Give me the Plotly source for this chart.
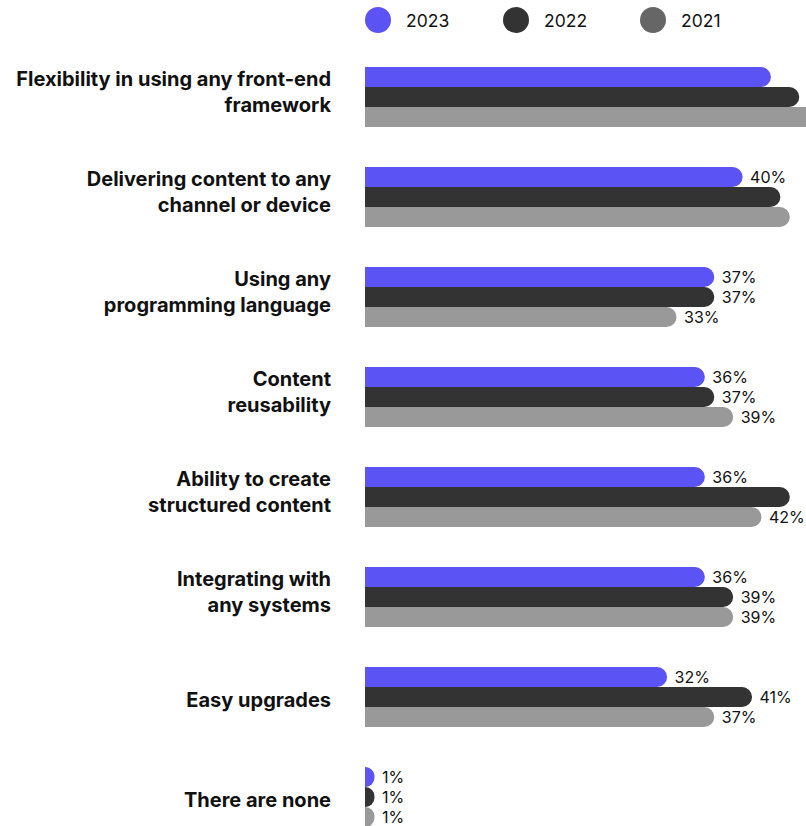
import plotly.graph_objects as go

categories = [
    "Flexibility in using any front-end<br>framework",
    "Delivering content to any<br>channel or device",
    "Using any<br>programming language",
    "Content<br>reusability",
    "Ability to create<br>structured content",
    "Integrating with<br>any systems",
    "Easy upgrades",
    "There are none",
]
years = ["2023", "2022", "2021"]
values_2023 = [43, 40, 37, 36, 36, 36, 32, 1]
values_2022 = [46, 44, 37, 37, 45, 39, 41, 1]
values_2021 = [48, 45, 33, 39, 42, 39, 37, 1]
bar_colors = ["#5B53F3", "#333333", "#999999"]
legend_colors = ["#5B53F3", "#333333", "#666666"]

W, H = 806, 826
ML, MT = 365, 47
PW, PH = W - ML, H - MT
PX_PER_PCT = 9.44
X_MAX = PW / PX_PER_PCT

FONT = "Inter"

fig = go.Figure()
for name, vals, col in zip(years, [values_2023, values_2022, values_2021], bar_colors):
    fig.add_trace(go.Bar(
        name=name,
        y=categories,
        x=vals,
        orientation="h",
        marker=dict(color=col, cornerradius=10, line=dict(width=0)),
        text=[(" %d%%" % v) if v <= 42 else "" for v in vals],
        textposition="outside",
        constraintext="none",
        textfont=dict(family=FONT, size=16, color="#111111"),
        cliponaxis=True,
        showlegend=False,
        hoverinfo="skip",
    ))

# empty helper trace so the second (label-only) y axis is drawn
fig.add_trace(go.Scatter(x=[], y=[], yaxis="y2", showlegend=False, hoverinfo="skip"))

multi_line = [c for c in categories if "<br>" in c]
single_line = [c for c in categories if "<br>" not in c]

# legend drawn as circles + text
shapes = []
annotations = []
leg_px = [378, 516, 653]
for i, (name, col) in enumerate(zip(years, legend_colors)):
    cx = (leg_px[i] - ML) / PW
    cy = (H - 20) / PH
    shapes.append(dict(type="circle", xref="paper", yref="paper",
                       xsizemode="pixel", ysizemode="pixel",
                       xanchor=cx, yanchor=cy, x0=-13, x1=13, y0=-13, y1=13,
                       fillcolor=col, line=dict(width=0)))
    annotations.append(dict(xref="paper", yref="paper", x=(leg_px[i] + 26 - ML) / PW, y=cy,
                            text=name, showarrow=False, xanchor="left", yanchor="middle",
                            font=dict(family=FONT, size=17.5, color="#111111")))

tickfont = dict(family=FONT, size=20, color="#111111", weight="bold")
fig.update_layout(
    width=W, height=H,
    margin=dict(l=ML, r=0, t=MT, b=0, pad=0),
    paper_bgcolor="white", plot_bgcolor="white",
    barmode="group", bargap=0.4, bargroupgap=0,
    shapes=shapes, annotations=annotations,
    xaxis=dict(range=[0, X_MAX], visible=False, showgrid=False, zeroline=False, fixedrange=True),
    yaxis=dict(type="category", categoryorder="array", categoryarray=categories,
               range=[7.29, -0.5], showgrid=False, zeroline=False, showline=False,
               tickmode="array", tickvals=multi_line, ticktext=multi_line,
               ticks="", ticklabelstandoff=33, ticklabelshift=5, fixedrange=True,
               tickfont=tickfont),
    yaxis2=dict(type="category", categoryorder="array", categoryarray=categories,
                overlaying="y", side="left", matches="y",
                range=[7.29, -0.5], showgrid=False, zeroline=False, showline=False,
                tickmode="array", tickvals=single_line, ticktext=single_line,
                ticks="", ticklabelstandoff=33, ticklabelshift=-3, fixedrange=True,
                tickfont=tickfont),
    font=dict(family=FONT),
)

fig.write_html("out.html", config={"displayModeBar": False},
               post_script="document.body.style.margin='0';document.body.style.overflow='hidden';")
